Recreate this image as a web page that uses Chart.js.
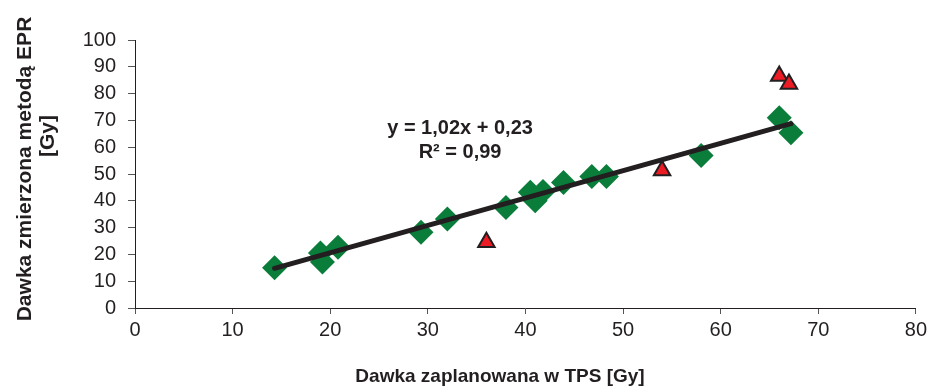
<!DOCTYPE html>
<html>
<head>
    <meta charset="utf-8" />
    <title>Dawka EPR vs TPS</title>
    <script src="https://cdn.jsdelivr.net/npm/chart.js@4.4.1/dist/chart.umd.min.js"></script>
    <style>
      html, body { margin: 0; padding: 0; background: #fff; }
      #wrap { width: 931px; height: 389px; }
    </style>
</head>
<body>
    <div id="wrap">
        <canvas id="chart-epr" width="931" height="389"></canvas>
    </div>

    <script>
      // dane
      var greenX = [14.3, 19.0, 19.2, 20.8, 29.3, 32.0, 38.0, 40.5, 41.8, 41.0, 43.9, 46.8, 48.3, 58.0, 66.0, 67.2];
      var greenY = [15.0, 20.5, 17.2, 22.7, 28.3, 33.2, 37.5, 43.2, 43.5, 40.0, 46.8, 49.1, 49.1, 56.9, 71.0, 65.4];
      var redX = [36.0, 54.0, 66.0, 67.0];
      var redY = [24.5, 51.3, 86.6, 83.6];
      var xTicks = [0, 10, 20, 30, 40, 50, 60, 70, 80];
      var yTicks = [0, 10, 20, 30, 40, 50, 60, 70, 80, 90, 100];
      var slope = 1.02, intercept = 0.23, r2 = "0,99";

      var xTitle = "Dawka zaplanowana w TPS [Gy]";
      var yTitle = ["Dawka zmierzona metodą EPR", "[Gy]"];
      var eqLines = ["y = 1,02x + 0,23", "R² = " + r2];

      var ink = "#231f20";

      function toPoints(xs, ys) {
        return xs.map(function (x, i) { return { x: x, y: ys[i] }; });
      }

      var fitMin = Math.min.apply(null, greenX);
      var fitMax = Math.max.apply(null, greenX);
      var fitLine = [fitMin, fitMax].map(function (x) {
        return { x: x, y: slope * x + intercept };
      });

      // tytuły osi i równanie rysowane ręcznie
      var textPlugin = {
        id: "texts",
        afterDraw: function (chart) {
          var ctx = chart.ctx;
          var sx = chart.scales.x, sy = chart.scales.y;
          ctx.save();
          ctx.fillStyle = ink;
          ctx.textAlign = "center";
          ctx.textBaseline = "middle";

          ctx.font = "bold 19px 'Liberation Sans', Arial, sans-serif";
          ctx.fillText(xTitle, 500, 377);

          ctx.font = "bold 21px 'Liberation Sans', Arial, sans-serif";
          ctx.save();
          ctx.translate(25, 169);
          ctx.rotate(-Math.PI / 2);
          ctx.fillText(yTitle[0], 0, 0);
          ctx.restore();
          ctx.save();
          ctx.translate(48, 136);
          ctx.rotate(-Math.PI / 2);
          ctx.fillText(yTitle[1], 0, 0);
          ctx.restore();

          ctx.font = "bold 20px 'Liberation Sans', Arial, sans-serif";
          var ex = sx.getPixelForValue(33.3), ey = sy.getPixelForValue(67);
          ctx.fillText(eqLines[0], ex, ey);
          ctx.fillText(eqLines[1], ex, ey + 24);
          ctx.restore();
        }
      };

      var tickFont = { family: "'Liberation Sans', Arial, sans-serif", size: 20 };

      new Chart(document.getElementById("chart-epr"), {
        type: "scatter",
        data: {
          datasets: [{
            label: "pomiary",
            data: toPoints(greenX, greenY),
            pointStyle: "rectRot",
            pointRadius: 12.5,
            pointHoverRadius: 12.5,
            backgroundColor: "#0b7d3b",
            borderColor: "#0b7d3b",
            borderWidth: 0,
            order: 3
          }, {
            label: "trend",
            type: "line",
            data: fitLine,
            borderColor: ink,
            borderWidth: 5,
            borderCapStyle: "round",
            pointRadius: 0,
            fill: false,
            order: 2
          }, {
            label: "odstające",
            data: toPoints(redX, redY),
            pointStyle: "triangle",
            pointRadius: 9.5,
            pointHoverRadius: 9.5,
            backgroundColor: "#ed1c24",
            borderColor: ink,
            borderWidth: 2,
            order: 1
          }]
        },
        options: {
          responsive: false,
          animation: false,
          layout: { padding: { top: 40, right: 14, left: 0, bottom: 0 } },
          plugins: { legend: { display: false }, tooltip: { enabled: false } },
          scales: {
            x: {
              type: "linear",
              min: 0,
              max: 80,
              afterBuildTicks: function (s) { s.ticks = xTicks.map(function (v) { return { value: v }; }); },
              afterFit: function (s) { s.height = 81; },
              grid: { drawOnChartArea: false, drawTicks: true, tickLength: 6, color: "#555" },
              border: { display: true, color: ink, width: 1 },
              ticks: { color: ink, font: tickFont, padding: 4, maxRotation: 0, autoSkip: false }
            },
            y: {
              type: "linear",
              min: 0,
              max: 100,
              afterBuildTicks: function (s) { s.ticks = yTicks.map(function (v) { return { value: v }; }); },
              afterFit: function (s) { s.width = 135; },
              grid: { drawOnChartArea: false, drawTicks: true, tickLength: 7, color: "#555" },
              border: { display: true, color: ink, width: 1 },
              ticks: { color: ink, font: tickFont, padding: 12, autoSkip: false }
            }
          }
        },
        plugins: [textPlugin]
      });
    </script>
</body>
</html>
